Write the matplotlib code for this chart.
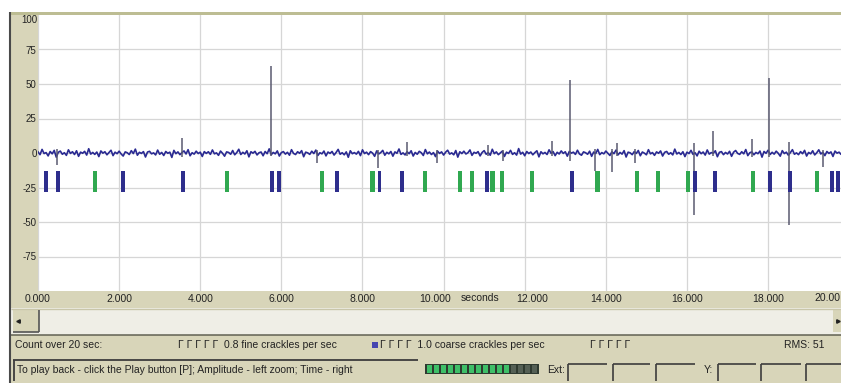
import numpy as np
import matplotlib
matplotlib.use('Agg')
import matplotlib.pyplot as plt
import matplotlib.transforms as mtransforms
from matplotlib.patches import Rectangle

plt.rcParams['font.family'] = ['Liberation Sans', 'DejaVu Sans']

# --- datos de la grabación (20 s) ---
duration = 20.0
# señal de fondo (amplitud), muestreada uniformemente
noise = [
    0.8, -1.2, 2.6, -0.4, 0.3, -2.1, 1.1, -0.6, 1.9, -3.0, 0.5, 1.4, -0.9, 0.2, -1.7, 2.3, -0.3, 0.9, -1.1, 1.6,
    -2.4, 0.6, -0.2, 1.2, -1.5, 3.1, -0.8, 0.4, -1.0, 0.7, -2.6, 1.5, -0.1, 0.9, -1.3, 0.3, 2.0, -1.9, 0.6, -0.5,
    1.3, -0.7, -2.2, 0.8, 0.2, -1.1, 1.7, -0.4, 2.8, -1.6, 0.5, -0.3, 1.0, -2.9, 0.7, 1.2, -0.6, 0.1, -1.4, 2.1,
    -0.9, 0.4, -1.8, 1.1, -0.2, 0.6, -3.2, 1.9, -0.5, 0.8, -1.2, 0.3, 1.5, -0.7, 2.4, -2.0, 0.2, -0.8, 1.3, -0.4,
    0.6, -2.5, 1.0, -0.3, 0.9, -1.0, 2.2, -0.6, 0.1, -1.7, 1.4, -0.2, -2.3, 0.8, 0.4, -0.9, 1.8, -1.3, 0.3, 2.7,
    -1.1, 0.5, -0.7, 1.6, -2.8, 0.9, -0.1, 1.2, -1.4, 0.2, 0.7, -2.0, 1.1, -0.5, 3.0, -1.2, 0.4, -0.6, 1.5, -2.2,
    0.3, 1.0, -0.8, 0.5, -1.6, 2.4, -0.3, -1.1, 0.9, -0.2, 1.7, -2.7, 0.6, 0.1, -1.0, 1.3, -0.4, 2.1, -1.8, 0.2,
    -0.6, 1.4, -2.1, 0.7, -0.3, 1.1, -1.5, 0.4, 2.6, -0.9, 0.2, -1.3, 0.8, -3.1, 1.6, -0.5, 0.3, -0.8, 1.2, -1.9,
    2.3, -0.4, 0.6, -1.2, 1.0, -0.1, -2.4, 1.5, -0.7, 0.3, 1.9, -1.6, 0.5, -0.6, 1.1, -2.3, 0.8, -0.2, 2.9, -1.0,
    0.1, -1.4, 0.9, -0.5, 1.6, -2.2, 0.4, -0.9, 1.2, 0.2, -1.8, 2.5, -0.6, 0.7, -1.1, 0.3, -2.6, 1.4, -0.3, 0.8,
    -1.5, 0.6, 2.0, -0.8, 0.1, -1.3, 1.8, -3.0, 0.9, -0.4, 1.3, -0.7, 0.2, 2.2, -1.7, 0.5, -0.2, 1.0, -2.1, 0.4,
    1.7, -0.9, 0.3, -1.6, 2.7, -0.5, 0.8, -1.2, 0.1, 1.4, -2.5, 0.6, -0.3, 1.9, -1.0, 0.2, -1.5, 3.2, -0.8, 0.5,
    -2.0, 1.1, -0.4, 0.7, -1.3, 0.3, 1.6, -2.8, 0.9, -0.6, 0.4, -1.1, 2.3, -0.2, 1.0, -1.9, 0.5, -0.7, 1.5, -0.3,
    0.9, -2.3, 1.2, -0.1, 0.6, -1.0, 2.0, -0.7, -1.6, 0.8, 0.2, -0.9, 1.3, -2.4, 0.7, -0.4, 2.6, -1.2, 0.3, -0.6,
    1.4, -0.2, -1.8, 0.9, -0.5, 2.1, -1.4, 0.4, -0.8, 1.7, -2.9, 0.6, 0.1, -1.2, 1.0, -0.3, 1.8, -2.0, 0.7, -0.1,
    -1.3, 2.4, -0.6, 0.3, -1.7, 0.8, -0.2, 1.5, -2.2, 0.5, 1.1, -0.9, 0.2, -1.4, 2.8, -0.7, 0.4, -1.1, 0.9, -2.6,
    0.6, -0.4, 1.9, -1.0, 0.2, -2.1, 1.3, -0.5, 0.7, -1.5, 2.2, -0.8, 0.3, -0.1, 1.6, -2.7, 0.5, 1.0, -1.2, 0.4,
    -0.7, 1.2, -2.4, 0.6, 1.8, -0.3, -1.0, 0.9, -0.6, 2.5, -1.9, 0.2, 0.8, -1.3, 0.4, -0.5, 1.4, -3.0, 1.1, -0.2,
    2.0, -1.1, 0.5, -0.8, 1.3, -0.2, -2.3, 1.7, -0.4, 0.6, -1.6, 0.3, 2.4, -0.9, 0.1, -1.2, 1.0, -0.5, 1.9, -2.2,
    0.4, -0.6, 1.6, -1.4, 0.2, 2.3, -0.7, 0.5, -1.9, 1.1, -0.3, 0.8, -2.5, 1.4, -0.1, 0.6, -1.0, 2.1, -1.5, 0.3,
]

# picos (crepitantes) de la señal: instante, mínimo y máximo
spike_t = [0.48, 3.55, 5.75, 6.88, 8.38, 9.10, 9.84, 11.10, 11.47, 12.68, 13.12, 13.74,
           14.15, 14.28, 14.72, 16.18, 16.65, 17.60, 18.03, 18.52, 19.35]
spike_lo = [-9, -3, -2, -7, -11, -2, -7, -2, -6, -2, -6, -13,
            -14, -2, -7, -45, -2, -3, -3, -52, -10]
spike_hi = [3, 11, 63, 2, 2, 8, 2, 6, 2, 9, 53, 3,
            3, 7, 3, 7, 16, 10, 54, 8, 2]

# marcas de crepitantes detectados
coarse_t = [0.20, 0.49, 2.10, 3.58, 5.77, 5.95, 7.37, 8.42, 8.98, 11.07, 13.17,
            16.20, 16.70, 18.05, 18.54, 19.58, 19.73]
fine_t = [1.41, 4.66, 7.00, 8.25, 9.54, 10.41, 10.70, 11.20, 11.44, 12.18, 13.79,
          14.77, 15.29, 16.03, 17.63, 19.21]

xticks = np.arange(0, 20, 2)
xlabels = ['%.3f' % v for v in xticks]
yticks = [-75, -50, -25, 0, 25, 50, 75]

BEIGE = '#d8d5b9'
DARK = '#3c3c3c'
TXT = '#222222'

W, H = 841, 383
fig = plt.figure(figsize=(W / 100, H / 100), dpi=100, facecolor='white')

# fondo de la ventana en coordenadas de pixel
bg = fig.add_axes([0, 0, 1, 1], zorder=0)
bg.set_xlim(0, W)
bg.set_ylim(H, 0)
bg.axis('off')

def rect(x, y, w, h, c, **kw):
    bg.add_patch(Rectangle((x, y), w, h, facecolor=c, edgecolor='none', **kw))

def hline(y, x0, x1, c=DARK, lw=1.0):
    bg.plot([x0, x1], [y, y], color=c, lw=lw, solid_capstyle='butt')

def vline(x, y0, y1, c=DARK, lw=1.0):
    bg.plot([x, x], [y0, y1], color=c, lw=lw, solid_capstyle='butt')

rect(11, 12, 830, 3.5, '#bdbd93')
rect(11, 15, 27, 277, BEIGE)
rect(11, 291, 830, 17, BEIGE)
# barra de desplazamiento
rect(11, 308, 830, 26, '#efeee6')
hline(308.5, 11, 841, '#c9c6aa', 1.0)
rect(13, 310, 26, 22, BEIGE)
vline(39, 310, 332, '#555555', 1.2)
hline(332, 13, 39, '#555555', 1.2)
bg.plot([18], [321], marker='<', ms=2.5, color='#222222')
rect(833, 310, 8, 22, BEIGE)
bg.plot([838], [321], marker='>', ms=2.5, color='#222222')
hline(334.5, 11, 841, '#6a6a5a', 1.2)
# barras de estado
rect(11, 335, 830, 48, BEIGE)
hline(360, 13, 418, DARK, 1.3)
vline(14, 360, 381, DARK, 1.3)
for x0, x1 in [(568, 607), (613, 650), (656, 695), (718, 756), (761, 801), (806, 841)]:
    hline(363.5, x0, x1, DARK, 1.2)
    vline(x0, 363.5, 381, DARK, 1.2)
vline(10.5, 12, H, '#4a4a4a', 1.5)

# medidor de nivel
rect(425, 364, 114, 10, '#2f3a30')
for x in range(427, 506, 7):
    rect(x, 365, 5, 8, '#3fbf68')
for x in range(511, 538, 7):
    rect(x, 365, 5, 8, '#556055')

fs = 7.5
bg.text(37, 20, '100', ha='right', va='center', fontsize=7, color=TXT)
bg.text(480, 298, 'seconds', ha='center', va='center', fontsize=fs, color=TXT)
bg.text(840, 298, '20.00', ha='right', va='center', fontsize=fs, color=TXT)
bg.text(15, 345, 'Count over 20 sec:', va='center', fontsize=fs, color=TXT)
bg.text(178, 345, 'Γ Γ Γ Γ Γ  0.8 fine crackles per sec', va='center', fontsize=fs, color=TXT)
rect(372, 342, 6, 6, '#4646b0')
bg.text(380, 345, 'Γ Γ Γ Γ  1.0 coarse crackles per sec', va='center', fontsize=fs, color=TXT)
bg.text(590, 345, 'Γ Γ Γ Γ Γ', va='center', fontsize=fs, color=TXT)
bg.text(784, 345, 'RMS: 51', va='center', fontsize=fs, color=TXT)
bg.text(17, 370, 'To play back - click the Play button [P]; Amplitude - left zoom; Time - right',
        va='center', fontsize=fs, color=TXT)
bg.text(547, 370, 'Ext:', va='center', fontsize=fs, color=TXT)
bg.text(704, 370, 'Y:', va='center', fontsize=fs, color=TXT)

# grafico principal
x_end = 38 + 40.56 * duration
ax = fig.add_axes([38 / W, (H - 291) / H, (x_end - 38) / W, (291 - 15) / H], zorder=1)
ax.set_facecolor('white')
ax.set_xlim(0, duration)
ax.set_ylim(-100, 100)
for s in ax.spines.values():
    s.set_visible(False)
ax.set_xticks(xticks)
ax.set_xticklabels(xlabels, fontsize=fs, color=TXT)
ax.set_yticks(yticks)
ax.set_yticklabels([str(v) for v in yticks], fontsize=7, color=TXT)
ax.tick_params(length=0, pad=2)
ax.tick_params(axis='y', pad=1)
ax.grid(True, color='#d6d6d6', lw=0.9)
ax.axvline(duration, color='#d6d6d6', lw=0.9, zorder=0)
ax.set_axisbelow(True)

# separa las etiquetas de 10 y 12 s para dejar sitio a "seconds"
labels = ax.get_xticklabels()
for lab, dx in [(labels[5], -0.09), (labels[6], 0.07)]:
    lab.set_transform(lab.get_transform() + mtransforms.ScaledTranslation(dx, 0, fig.dpi_scale_trans))

t = np.arange(len(noise)) * (duration / len(noise))
ax.plot(t, noise, color='#2a2a92', lw=1.2, zorder=3)
ax.vlines(spike_t, spike_lo, spike_hi, color='#5a5a70', lw=1.1, zorder=3)

ax.bar(coarse_t, 15, bottom=-28, width=0.095, color='#2e2e8c', zorder=4)
ax.bar(fine_t, 15, bottom=-28, width=0.11, color='#30a850', zorder=4)

fig.savefig('out.png', dpi=100, facecolor='white')
